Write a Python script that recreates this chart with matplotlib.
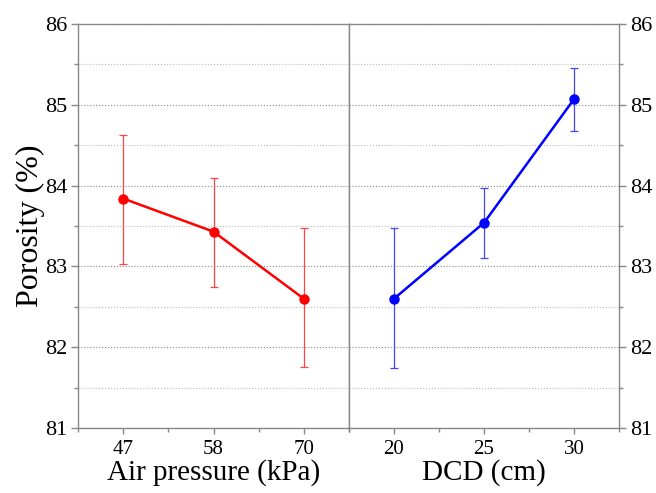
import numpy as np
import matplotlib
matplotlib.use("Agg")
import matplotlib.pyplot as plt
from matplotlib.ticker import MultipleLocator

plt.rcParams['font.family'] = 'Liberation Serif'

# Data
air_labels = ["47", "58", "70"]
air_mean = [83.84, 83.43, 82.60]
air_upper = [84.63, 84.10, 83.47]
air_lower = [83.03, 82.74, 81.75]

dcd_values = [20, 25, 30]
dcd_mean = [82.60, 83.54, 85.07]
dcd_upper = [83.47, 83.97, 85.45]
dcd_lower = [81.74, 83.11, 84.67]

spine_col = "#888888"

fig = plt.figure(figsize=(6.56, 4.93), dpi=100)
ax1 = fig.add_axes([78 / 656, 1 - 428 / 493, 271 / 656, 404 / 493])
ax2 = fig.add_axes([349 / 656, 1 - 428 / 493, 270 / 656, 404 / 493])


def style(ax):
    ax.set_ylim(81, 86)
    ax.yaxis.set_major_locator(MultipleLocator(1))
    ax.yaxis.set_minor_locator(MultipleLocator(0.5))
    ax.grid(axis='y', which='major', linestyle=':', color='#888888', linewidth=0.8)
    ax.grid(axis='y', which='minor', linestyle=':', color='#bbbbbb', linewidth=0.8)
    ax.set_axisbelow(True)
    for s in ax.spines.values():
        s.set_color(spine_col)
        s.set_linewidth(1.0)
    ax.tick_params(which='major', direction='out', length=5, width=1,
                   color=spine_col, labelsize=16, pad=3)
    ax.tick_params(which='minor', direction='out', length=3, width=1,
                   color=spine_col)
    ax.tick_params(axis='x', which='major', length=4, pad=5, labelsize=15)


# left panel: air pressure
x1 = np.arange(len(air_labels))
err1 = [np.array(air_mean) - np.array(air_lower),
        np.array(air_upper) - np.array(air_mean)]
ax1.errorbar(x1, air_mean, yerr=err1, color='red', ecolor='#ff4444',
             elinewidth=0.9, capsize=3, capthick=0.9, marker='o',
             markersize=6.5, linewidth=1.8)
ax1.set_xlim(-0.5, 2.5)
ax1.set_xticks(x1)
ax1.set_xticklabels(air_labels)
ax1.set_xticks([-0.5, 0.5, 1.5, 2.5], minor=True)
style(ax1)
ax1.set_xlabel("Air pressure (kPa)", fontsize=21, labelpad=0)
ax1.set_ylabel("Porosity (%)", fontsize=23, labelpad=0)

# right panel: DCD
err2 = [np.array(dcd_mean) - np.array(dcd_lower),
        np.array(dcd_upper) - np.array(dcd_mean)]
ax2.errorbar(dcd_values, dcd_mean, yerr=err2, color='blue', ecolor='#4444ff',
             elinewidth=0.9, capsize=3, capthick=0.9, marker='o',
             markersize=6.5, linewidth=1.8)
ax2.set_xlim(18, 32)
ax2.set_xticks(dcd_values)
ax2.set_xticks([17.5, 22.5, 27.5, 32.5], minor=True)
style(ax2)
ax2.yaxis.tick_right()
ax2.tick_params(axis='y', which='both', left=False, right=True)
ax2.set_xlabel("DCD (cm)", fontsize=21, labelpad=0)

fig.savefig("out.png", dpi=100)
